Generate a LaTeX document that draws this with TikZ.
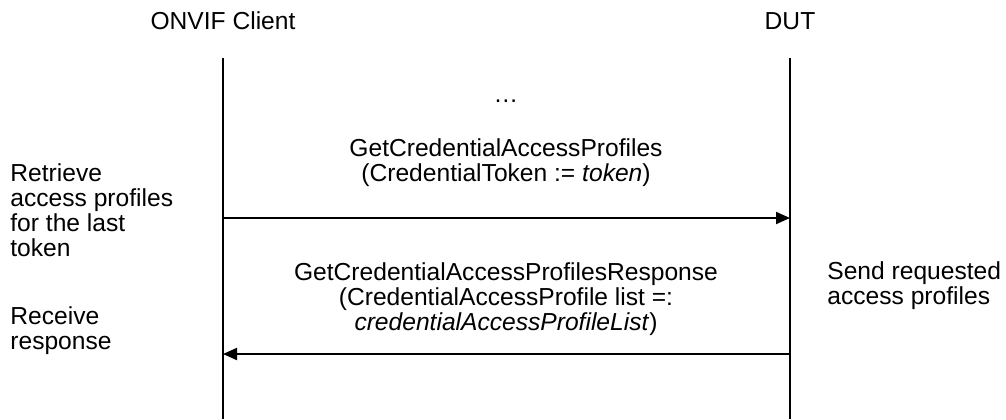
\documentclass[tikz,border=0pt]{standalone}
\usepackage{fontspec}
\setmainfont{Liberation Sans}
\usetikzlibrary{arrows.meta}
\begin{document}
\begin{tikzpicture}[x=0.5pt, y=-0.5pt, >={Triangle[length=7pt,width=6pt]},
    every node/.style={font=\fontsize{12.3}{12.5}\selectfont, inner sep=0pt},
    lifeline/.style={line width=1pt},
    msg/.style={line width=1pt, ->},
    msgtext/.style={align=center},
    note/.style={align=left, anchor=west}]
    \useasboundingbox (0,0) rectangle (1006,419);
    % Teilnehmer
    \node (client) at (223,21) {ONVIF Client};
    \node (dut) at (790,21) {DUT};
    \coordinate (client top) at (223,58);
    \coordinate (client bot) at (223,419);
    \coordinate (dut top) at (790,58);
    \coordinate (dut bot) at (790,419);
    \draw[lifeline] (client top) -- (client bot);
    \draw[lifeline] (dut top) -- (dut bot);

    \node[msgtext] (dots) at (506,101) {…};

    % Anfrage
    \coordinate (req start) at (223,218);
    \coordinate (req end) at (790,218);
    \draw[msg] (req start) -- (req end);
    \node[msgtext] (req) at (506,163) {GetCredentialAccessProfiles\\(CredentialToken := \textit{token})};

    % Antwort
    \coordinate (rsp start) at (790,354);
    \coordinate (rsp end) at (223,354);
    \draw[msg] (rsp start) -- (rsp end);
    \node[msgtext] (rsp) at (506,299) {GetCredentialAccessProfilesResponse\\(CredentialAccessProfile list =:\\\textit{credentialAccessProfileList})};

    % Notizen
    \node[note] (retrieve) at (10,210) {Retrieve\\access profiles\\for the last\\token};
    \node[note] (receive) at (10,331) {Receive\\response};
    \node[note] (send) at (827,286) {Send requested\\access profiles};
\end{tikzpicture}
\end{document}
